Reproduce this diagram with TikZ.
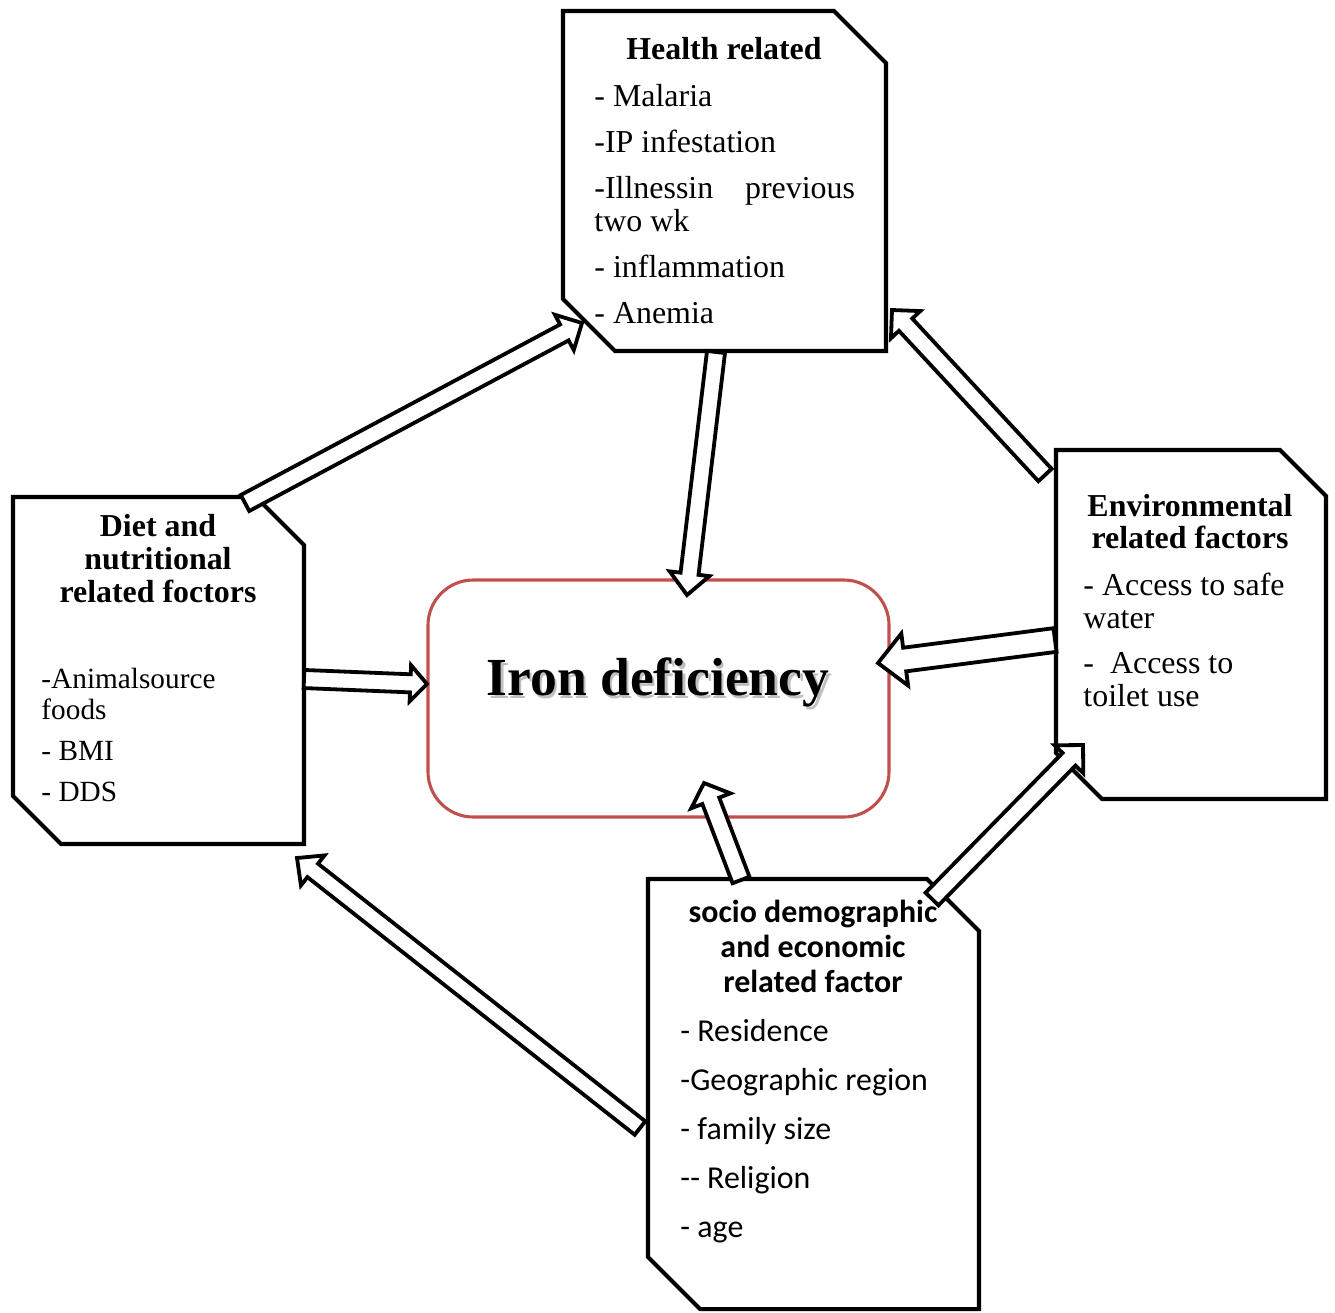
\documentclass[tikz,border=0pt]{standalone}
\usepackage{fontspec}
\setmainfont{Liberation Serif}
\newfontfamily\calibrifont{Carlito}
\usetikzlibrary{calc}
\newlength\pxu
\setlength\pxu{0.42pt}
\definecolor{ironred}{RGB}{192,80,77}

% box with cut top right and bottom left corners: node name, cut
\newcommand{\chamferbox}[2]{%
  \draw[box line] (#1.north west) -- ($(#1.north east)+(-#2,0)$) -- ($(#1.north east)+(0,#2)$)
    -- (#1.south east) -- ($(#1.south west)+(#2,0)$) -- ($(#1.south west)+(0,-#2)$) -- cycle;}

% hollow block arrow: tail, tip, shaft half width, head half width, head length
\newcommand{\hollowarrow}[5]{%
  \coordinate (ha-base) at ($(#2)!#5!(#1)$);
  \draw[hollow arrow] ($(#1)!#3!90:(#2)$) -- ($(ha-base)!#3!90:(#2)$)
    -- ($(ha-base)!#4!90:(#2)$) -- (#2) -- ($(ha-base)!#4!-90:(#2)$)
    -- ($(ha-base)!#3!-90:(#2)$) -- ($(#1)!#3!-90:(#2)$) -- cycle;}

\begin{document}
\begin{tikzpicture}[x=0.42pt, y=-0.42pt,
    factor box/.style={rectangle, inner sep=0pt, outer sep=0pt},
    box line/.style={draw, line width=1.7pt, line join=miter},
    hollow arrow/.style={draw, line width=1.6pt, fill=white, line join=miter},
    title text/.style={font=\bfseries\fontsize{13.4}{13.8}\selectfont, align=center, inner sep=0pt, anchor=north},
    item text/.style={font=\fontsize{13.4}{13.8}\selectfont, align=left, inner sep=0pt, anchor=north west}]

  \useasboundingbox (0,0) rectangle (1335,1312);

  % boxes
  \node[factor box, minimum width=323*\pxu, minimum height=340*\pxu] (health) at (724.5,181) {};
  \node[factor box, minimum width=291*\pxu, minimum height=347*\pxu] (diet) at (158.5,670.5) {};
  \node[factor box, minimum width=270*\pxu, minimum height=349*\pxu] (env) at (1191,624.5) {};
  \node[factor box, minimum width=331*\pxu, minimum height=430*\pxu] (socio) at (813.5,1094) {};
  \chamferbox{health}{52}
  \chamferbox{diet}{48}
  \chamferbox{env}{46}
  \chamferbox{socio}{52}
  \node[draw=ironred, line width=1.3pt, rounded corners=19pt,
        minimum width=461*\pxu, minimum height=237*\pxu] (iron) at (658.5,698.5) {};

  % arrow ends
  \coordinate (d2h-t) at (245,503);  \coordinate (d2h-h) at (582,323);
  \coordinate (h2i-t) at (716,352);  \coordinate (h2i-h) at (687,595);
  \coordinate (e2h-t) at (1045,475); \coordinate (e2h-h) at (892,310);
  \coordinate (e2i-t) at (1055,640); \coordinate (e2i-h) at (878,663);
  \coordinate (d2i-t) at (304,679);  \coordinate (d2i-h) at (427,684);
  \coordinate (s2i-t) at (741,880);  \coordinate (s2i-h) at (704,783);
  \coordinate (s2e-t) at (932,899);  \coordinate (s2e-h) at (1083,745);
  \coordinate (s2d-t) at (640,1128); \coordinate (s2d-h) at (297,858);

  \hollowarrow{d2h-t}{d2h-h}{3.8pt}{8.4pt}{8.4pt}
  \hollowarrow{h2i-t}{h2i-h}{3.8pt}{8.4pt}{9pt}
  \hollowarrow{e2h-t}{e2h-h}{3.8pt}{8.4pt}{8.4pt}
  \hollowarrow{e2i-t}{e2i-h}{5pt}{11pt}{11.3pt}
  \hollowarrow{d2i-t}{d2i-h}{3.8pt}{7.6pt}{7pt}
  \hollowarrow{s2i-t}{s2i-h}{3.8pt}{8.8pt}{8pt}
  \hollowarrow{s2e-t}{s2e-h}{3.8pt}{8.4pt}{8.4pt}
  \hollowarrow{s2d-t}{s2d-h}{3.6pt}{8pt}{8.4pt}

  % texts
  \node[title text] (health-title) at (724,36.4) {Health related};
  \node[item text] (health-items) at (594,84.2) {- Malaria\\[5.5pt] -IP infestation\\[5.5pt]
    -Illnessin\hspace{1em}previous\\two wk\\[5.5pt] - inflammation\\[5.5pt] - Anemia};

  \node[title text, font=\bfseries\fontsize{13.4}{14}\selectfont] (diet-title) at (158,513.4)
    {Diet and\\nutritional\\related foctors};
  \node[item text, font=\fontsize{12.3}{13}\selectfont] (diet-items) at (41,668)
    {-Animalsource\\foods\\[4.2pt] - BMI\\[4.2pt] - DDS};

  \node[title text] (env-title) at (1190,493.4) {Environmental\\related factors};
  \node[item text] (env-items) at (1083,572.2) {- Access to safe\\water\\[5.5pt]
    -\ \ Access to\\toilet use};

  \node[title text, font=\calibrifont\bfseries\fontsize{13.4}{14.7}\selectfont] (socio-title) at (813,899.7)
    {socio demographic\\and economic\\related factor};
  \node[item text, font=\calibrifont\fontsize{13.4}{14.7}\selectfont] (socio-items) at (680,1018.7)
    {- Residence\\[5.9pt] -Geographic region\\[5.9pt] - family size\\[5.9pt] -{}- Religion\\[5.9pt] - age};

  \node[font=\bfseries\fontsize{22.5}{26}\selectfont, text=black!25, anchor=base] (iron-shadow) at (660.5,698.5)
    {Iron deficiency};
  \node[font=\bfseries\fontsize{22.5}{26}\selectfont, anchor=base] (iron-label) at (658,695) {Iron deficiency};
\end{tikzpicture}
\end{document}
